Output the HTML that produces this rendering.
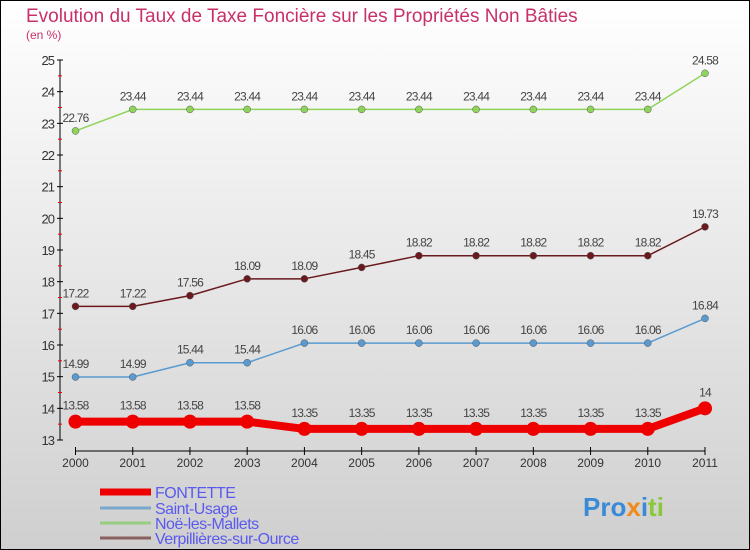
<!DOCTYPE html>
<html><head><meta charset="utf-8"><style>
body{margin:0}
#c{width:750px;height:550px;position:relative;background:linear-gradient(#fff,#cfcfcf);box-sizing:border-box;border:1px solid #000;overflow:hidden;font-family:"Liberation Sans",sans-serif}
svg text{font-family:"Liberation Sans",sans-serif}
</style></head><body>
<div id="c">
<svg id="s" width="750" height="550" style="position:absolute;left:-1px;top:-1px">
<text x="26" y="22" font-size="19" fill="#c8306a">Evolution du Taux de Taxe Foncière sur les Propriétés Non Bâties</text>
<text x="26" y="39" font-size="12" fill="#c8306a">(en %)</text>
<text x="583" y="516" font-size="26" font-weight="bold"><tspan fill="#3a8ad6">Pro</tspan><tspan fill="#f08a1a">x</tspan><tspan fill="#3a8ad6">i</tspan><tspan fill="#8ac83a">ti</tspan></text>
</svg>
</div>
<script>
const years=["2000","2001","2002","2003","2004","2005","2006","2007","2008","2009","2010","2011"];
const yTicks=[13,14,15,16,17,18,19,20,21,22,23,24,25];
const fontette=[13.58,13.58,13.58,13.58,13.35,13.35,13.35,13.35,13.35,13.35,13.35,14];
const saintUsage=[14.99,14.99,15.44,15.44,16.06,16.06,16.06,16.06,16.06,16.06,16.06,16.84];
const noe=[22.76,23.44,23.44,23.44,23.44,23.44,23.44,23.44,23.44,23.44,23.44,24.58];
const verp=[17.22,17.22,17.56,18.09,18.09,18.45,18.82,18.82,18.82,18.82,18.82,19.73];
const NS="http://www.w3.org/2000/svg",s=document.getElementById('s');
const X=i=>75.5+i*(705-75.5)/11, Y=v=>440-(v-13)*(380/12);
function el(t,a,p){const e=document.createElementNS(NS,t);for(const k in a)e.setAttribute(k,a[k]);(p||s).appendChild(e);return e;}
let ax=el('line',{x1:60,y1:60,x2:60,y2:440,stroke:'#000'});


for(const t of yTicks){el('line',{x1:57,x2:63,y1:Y(t),y2:Y(t),stroke:'#000'});
if(t<25)el('line',{x1:58,x2:62,y1:Y(t+0.5),y2:Y(t+0.5),stroke:'#e00'});
const tx=el('text',{x:54,y:Y(t)+5,'font-size':13,'text-anchor':'end',fill:'#333','letter-spacing':'-1'});tx.textContent=t;

}
let xa=el('line',{x1:75.5,y1:451,x2:705,y2:451,stroke:'#000'});


years.forEach((y,i)=>{el('line',{x1:X(i),x2:X(i),y1:447,y2:455,stroke:'#000'});
const tx=el('text',{x:X(i),y:467,'font-size':12,'text-anchor':'middle',fill:'#333'});tx.textContent=y;

});
function series(d,color,w,r,name){const g=el('g',{});


el('polyline',{points:d.map((v,i)=>X(i)+','+Y(v)).join(' '),fill:'none',stroke:color,'stroke-width':w,'stroke-linejoin':'round'},g);
d.forEach((v,i)=>{el('circle',{cx:X(i),cy:Y(v),r:r,fill:color,stroke:r>5?'none':'#555','stroke-width':0.5},g);
const t=el('text',{x:X(i),y:Y(v)-(r>5?12:9),'font-size':12,'text-anchor':'middle',fill:'#444','letter-spacing':'-0.8'},g);t.textContent=v;});}
series(noe,'#8ed45a',1.5,3.5,'series-noe-les-mallets');
series(verp,'#6a1a1e',1.5,3.5,'series-verpillieres');
series(saintUsage,'#5a9ad0',1.5,3.5,'series-saint-usage');
series(fontette,'#ee0000',8,7,'series-fontette');
const leg=[['FONTETTE','#ee0000',7],['Saint-Usage','#7aa8cc',3],['Noë-les-Mallets','#98cc80',3],['Verpillières-sur-Ource','#8a6060',3]];
leg.forEach((l,i)=>{const y=[492,508,523,538][i];const g=el('g',{});


el('line',{x1:100,x2:151,y1:y,y2:y,stroke:l[1],'stroke-width':l[2]},g);
const t=el('text',{x:155,y:y+6,'font-size':16,fill:'#5a5aee','letter-spacing':'-0.5'},g);t.textContent=l[0];});
</script>
</body></html>
